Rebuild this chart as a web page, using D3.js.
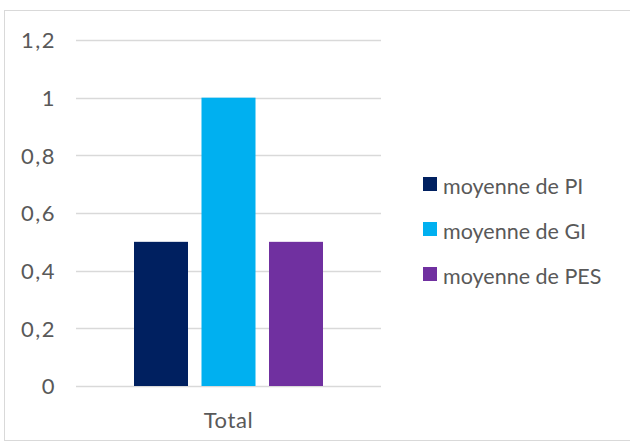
<!DOCTYPE html>
<html><head><meta charset="utf-8">
<script src="https://cdn.jsdelivr.net/npm/d3@7"></script>
<style>body{margin:0;background:#fff}svg{display:block}</style>
</head><body>
<script>
const categories = ["Total"];
const seriesNames = ["moyenne de PI", "moyenne de GI", "moyenne de PES"];
const seriesValues = [0.5, 1, 0.5];
const seriesColors = ["#002060", "#00B0F0", "#7030A0"];
const yTicks = [0, 0.2, 0.4, 0.6, 0.8, 1, 1.2];
const yTickLabels = ["0", "0,2", "0,4", "0,6", "0,8", "1", "1,2"];

const W = 630, H = 443;
const font = "Lato, sans-serif";
const textColor = "#595959";
const svg = d3.select("body").append("svg").attr("width", W).attr("height", H);

svg.append("rect").attr("x", 4.5).attr("y", 10.5).attr("width", 640).attr("height", 430)
  .attr("fill", "#fff").attr("stroke", "#D9D9D9").attr("stroke-width", 1);

const plot = {left: 76, right: 381, top: 40, bottom: 386};
const y = d3.scaleLinear().domain([0, 1.2]).range([plot.bottom, plot.top]);
const x0 = d3.scaleBand().domain(categories).range([plot.left, plot.right]).paddingInner(0).paddingOuter(0);
const x1 = d3.scaleBand().domain(seriesNames).range([134, 323]).paddingInner(0.2).paddingOuter(0);

const yAxis = d3.axisLeft(y).tickValues(yTicks).tickFormat((d, i) => yTickLabels[i]).tickSize(0).tickPadding(0);
const ga = svg.append("g").attr("transform", `translate(${plot.left},0)`).call(yAxis);
ga.select(".domain").remove();
ga.selectAll(".tick line").remove();
ga.selectAll(".tick text").attr("x", -20).attr("dy", "0.35em")
  .attr("font-family", font).attr("font-size", 22).attr("letter-spacing", 1.5)
  .attr("fill", textColor);

svg.append("g").selectAll("line").data(yTicks).join("line")
  .attr("x1", plot.left).attr("x2", plot.right)
  .attr("y1", d => Math.round(y(d)) + 0.5).attr("y2", d => Math.round(y(d)) + 0.5)
  .attr("stroke", "#D9D9D9").attr("stroke-width", 1.3);

svg.append("g").selectAll("rect").data(seriesNames).join("rect")
  .attr("x", (d) => x1(d))
  .attr("y", (d, i) => y(seriesValues[i]))
  .attr("width", x1.bandwidth())
  .attr("height", (d, i) => y(0) - y(seriesValues[i]))
  .attr("fill", (d, i) => seriesColors[i]);

svg.append("g").selectAll("text").data(categories).join("text")
  .attr("x", d => x0(d) + x0.bandwidth() / 2)
  .attr("y", 420.5).attr("dy", "0.35em").attr("text-anchor", "middle")
  .attr("font-family", font).attr("font-size", 22).attr("letter-spacing", 0.6)
  .attr("fill", textColor)
  .text(d => d);

const leg = svg.append("g").selectAll("g").data(seriesNames).join("g")
  .attr("transform", (d, i) => `translate(423,${184 + i * 45})`);
leg.append("rect").attr("x", 0).attr("y", -7).attr("width", 14).attr("height", 14)
  .attr("fill", (d, i) => seriesColors[i]);
leg.append("text").attr("x", 20).attr("y", 9.5)
  .attr("font-family", font).attr("font-size", 21.5).attr("fill", textColor)
  .text(d => d);
</script>
</body></html>
